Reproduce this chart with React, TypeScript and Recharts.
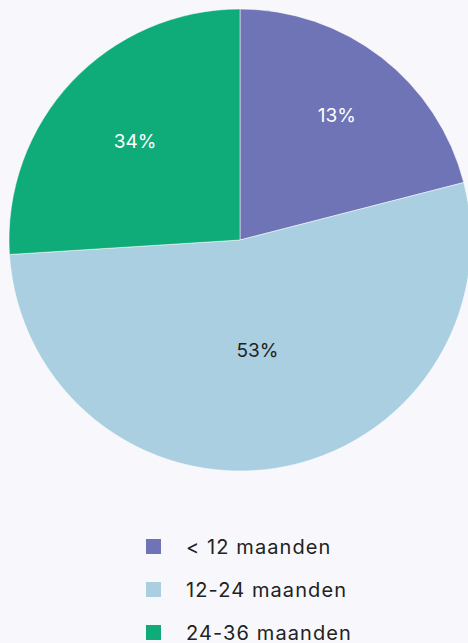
import React from 'react';
import { Cell, Legend, Pie, PieChart } from 'recharts';

const categories = ['< 12 maanden', '12-24 maanden', '24-36 maanden'];
const values = [21, 53, 26];
const labels = ['13%', '53%', '34%'];

const colors = ['#6e74b6', '#a9cfe1', '#0fac7a'];
const labelColors = ['#ffffff', '#222222', '#ffffff'];
const labelRadius = [0.684, 0.485, 0.623];

const data = categories.map((name, i) => ({ name, value: values[i] }));

const RAD = Math.PI / 180;
const FONT = 'Inter, "Noto Sans", sans-serif';

const renderLabel = (props: any) => {
  const { cx, cy, midAngle, outerRadius, index } = props;
  const r = outerRadius * labelRadius[index];
  const x = cx + r * Math.cos(-midAngle * RAD);
  const y = cy + r * Math.sin(-midAngle * RAD);
  return (
    <text
      x={x}
      y={y}
      fill={labelColors[index]}
      textAnchor="middle"
      dominantBaseline="central"
      fontSize={19}
      fontFamily={FONT}
    >
      {labels[index]}
    </text>
  );
};

const renderLegend = () => (
  <div style={{ fontFamily: FONT }}>
    {categories.map((c, i) => (
      <div key={c} style={{ display: 'flex', alignItems: 'center', height: 43 }}>
        <span style={{ width: 15, height: 15, background: colors[i], display: 'inline-block' }} />
        <span style={{ marginLeft: 25, fontSize: 20, letterSpacing: 1.1, color: '#222' }}>{c}</span>
      </div>
    ))}
  </div>
);

export default function App() {
  return (
    <div style={{ width: 468, height: 643, background: '#f8f8fc', overflow: 'hidden' }}>
      <style>{'body{margin:0}'}</style>
      <PieChart width={468} height={643} margin={{ top: 0, right: 0, bottom: 0, left: 0 }}>
        <Pie
          data={data}
          dataKey="value"
          nameKey="name"
          cx={240}
          cy={240}
          outerRadius={231}
          startAngle={90}
          endAngle={-270}
          stroke="#ffffff"
          strokeWidth={0.5}
          label={renderLabel}
          labelLine={false}
          isAnimationActive={false}
        >
          {data.map((d, i) => (
            <Cell key={d.name} fill={colors[i]} />
          ))}
        </Pie>
        <Legend content={renderLegend} wrapperStyle={{ top: 525, left: 146, width: 300 }} />
      </PieChart>
    </div>
  );
}
